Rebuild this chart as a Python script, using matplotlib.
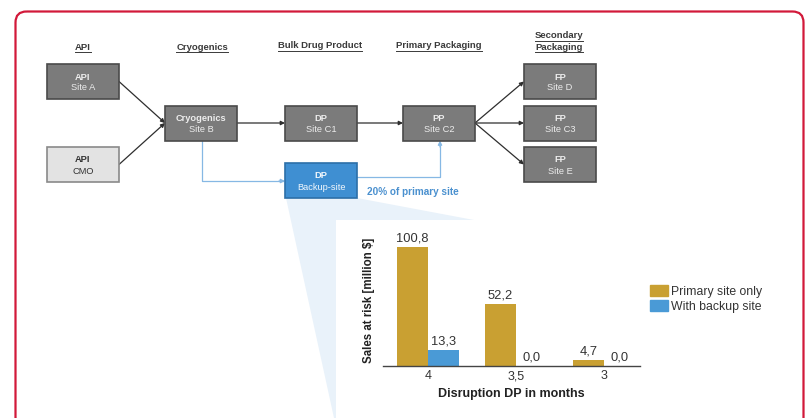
import matplotlib
matplotlib.use("Agg")
import matplotlib.pyplot as plt
from matplotlib.patches import FancyBboxPatch, Rectangle, Polygon, Patch

plt.rcParams['font.family'] = ['Liberation Sans', 'DejaVu Sans']

# ---- chart data ----
months = ['4', '3,5', '3']
primary_only = [100.8, 52.2, 4.7]
with_backup = [13.3, 0.0, 0.0]
series_names = ['Primary site only', 'With backup site']

# ---- supply-chain diagram content ----
stage_headers = ['API', 'Cryogenics', 'Bulk Drug Product', 'Primary Packaging', 'Secondary\nPackaging']
site_boxes = [  # (key, title, subtitle, style)
    ('apiA', 'API', 'Site A', 'gray'),
    ('apiCMO', 'API', 'CMO', 'light'),
    ('cryo', 'Cryogenics', 'Site B', 'gray'),
    ('dp', 'DP', 'Site C1', 'gray'),
    ('pp', 'PP', 'Site C2', 'gray'),
    ('fpD', 'FP', 'Site D', 'gray'),
    ('fpC3', 'FP', 'Site C3', 'gray'),
    ('fpE', 'FP', 'Site E', 'gray'),
    ('backup', 'DP', 'Backup-site', 'blue'),
]
backup_note = '20% of primary site'

W, H, DPI = 805, 418, 100
fig = plt.figure(figsize=(W / DPI, H / DPI), dpi=DPI)
fig.patch.set_facecolor('white')

dg = fig.add_axes([0, 0, 1, 1])
dg.set_xlim(0, W)
dg.set_ylim(H, 0)
dg.axis('off')

# rounded red frame
dg.add_patch(FancyBboxPatch((15.5, 11.5), 788, 418, boxstyle='round,pad=0,rounding_size=11',
                            fill=False, ec='#D2193A', lw=1.6, zorder=1))

# box geometry in pixel space
geom = {
    'apiA': (47, 64), 'apiCMO': (47, 147), 'cryo': (165, 105.5),
    'dp': (285, 105.5), 'pp': (403, 105.5),
    'fpD': (524, 64), 'fpC3': (524, 105.5), 'fpE': (524, 147),
    'backup': (285, 163),
}
bw, bh = 72, 35
styles = {
    'gray': dict(fc='#7B7B7B', ec='#4A4A4A', tc='#EDEDED'),
    'light': dict(fc='#E3E3E3', ec='#8A8A8A', tc='#333333'),
    'blue': dict(fc='#3F8FD2', ec='#2C6FA8', tc='#F2F7FC'),
}

# light-blue zoom wedge from the backup box to the chart panel
bx, by = geom['backup']
dg.add_patch(Polygon([(bx + 1, by + bh), (bx + bw, by + bh), (474, 220), (474, 418), (334, 418)],
                     closed=True, fc='#E9F2FA', ec='none', zorder=1))
dg.add_patch(Rectangle((336, 220), 330, 198, fc='white', ec='none', zorder=1.5))

for key, title, sub, st in site_boxes:
    x0, y0 = geom[key]
    s = styles[st]
    dg.add_patch(Rectangle((x0, y0), bw, bh, fc=s['fc'], ec=s['ec'], lw=1.2, zorder=3))
    dg.text(x0 + bw / 2, y0 + 13, title, ha='center', va='center', fontsize=6.7,
            fontweight='bold', color=s['tc'], zorder=4)
    dg.text(x0 + bw / 2, y0 + 24, sub, ha='center', va='center', fontsize=6.7,
            color=s['tc'], zorder=4)

# stage headers with underline
header_x = [83, 202, 320, 439, 559]
header_y = [47, 47, 46, 46, 47]
fig.canvas.draw()
renderer = fig.canvas.get_renderer()
inv = dg.transData.inverted()
for txt, hx, hy in zip(stage_headers, header_x, header_y):
    lines = txt.split('\n')
    for i, ln in enumerate(lines):
        yy = hy - (len(lines) - 1 - i) * 11
        t = dg.text(hx, yy, ln, ha='center', va='center', fontsize=6.8, fontweight='bold',
                    color='#3A3A3A', zorder=4)
        bb = t.get_window_extent(renderer)
        (xa, ya), (xb, yb) = inv.transform([(bb.x0, bb.y0), (bb.x1, bb.y1)])
        dg.plot([xa, xb], [yy + 5, yy + 5], color='#3A3A3A', lw=0.7, zorder=4)


def link(p0, p1, color='#2E2E2E', lw=0.9):
    dg.annotate('', xy=p1, xytext=p0,
                arrowprops=dict(arrowstyle='-|>', color=color, lw=lw, mutation_scale=6,
                                shrinkA=0, shrinkB=0), zorder=2)


def right_mid(k):
    x0, y0 = geom[k]
    return (x0 + bw, y0 + bh / 2)


def left_mid(k):
    x0, y0 = geom[k]
    return (x0, y0 + bh / 2)


link(right_mid('apiA'), left_mid('cryo'))
link(right_mid('apiCMO'), left_mid('cryo'))
link(right_mid('cryo'), left_mid('dp'))
link(right_mid('dp'), left_mid('pp'))
for k in ('fpD', 'fpC3', 'fpE'):
    link(right_mid('pp'), left_mid(k))

# backup route (blue)
blue_line = '#86B8E4'
cx = geom['cryo'][0] + 37
dg.plot([cx, cx, bx - 2], [geom['cryo'][1] + bh, 181, 181], color=blue_line, lw=0.9, zorder=2)
link((bx - 6, 181), (bx, 181), color=blue_line, lw=0.9)
px = geom['pp'][0] + 37
dg.plot([bx + bw, px, px], [177, 177, 146], color=blue_line, lw=0.9, zorder=2)
link((px, 147), (px, geom['pp'][1] + bh), color=blue_line, lw=0.9)
dg.text(367, 192, backup_note, ha='left', va='center', fontsize=7.2, fontweight='bold',
        color='#4A90CF', zorder=4)

# ---- bar chart ----
ax = fig.add_axes([383 / W, 1 - 366 / H, 257 / W, 131 / H], zorder=5)
ax.patch.set_alpha(0)
gold, blue = '#C9A032', '#4A9AD6'
width = 0.352
pos = list(range(len(months)))
b1 = ax.bar([p - width / 2 for p in pos], primary_only, width, color=gold, label=series_names[0])
b2 = ax.bar([p + width / 2 for p in pos], with_backup, width, color=blue, label=series_names[1])
for bars in (b1, b2):
    for r in bars:
        v = r.get_height()
        ax.text(r.get_x() + r.get_width() / 2, v + 2.5, f'{v:.1f}'.replace('.', ','),
                ha='center', va='bottom', fontsize=9.3, color='#333333')
ax.set_xlim(-0.511, 2.409)
ax.set_ylim(0, 110.96)
ax.set_xticks(pos)
ax.set_xticklabels(months, fontsize=9, color='#333333')
ax.tick_params(axis='x', length=0, pad=3)
ax.set_yticks([])
for sp in ('left', 'right', 'top'):
    ax.spines[sp].set_visible(False)
ax.spines['bottom'].set_color('#444444')
ax.spines['bottom'].set_linewidth(1.0)
ax.set_xlabel('Disruption DP in months', fontsize=9, fontweight='bold', color='#222222', labelpad=4)
ax.set_ylabel('Sales at risk [million $]', fontsize=8.3, fontweight='bold', color='#222222', labelpad=6)

fig.legend(handles=[Patch(color=gold), Patch(color=blue)], labels=series_names,
           loc='upper left', bbox_to_anchor=(650 / W, 1 - 285 / H), frameon=False,
           fontsize=8.8, handlelength=1.45, handleheight=1.0, handletextpad=0.3,
           labelspacing=0.2, borderpad=0, borderaxespad=0, labelcolor='#333333')

fig.savefig('out.png', dpi=DPI, facecolor='white')
